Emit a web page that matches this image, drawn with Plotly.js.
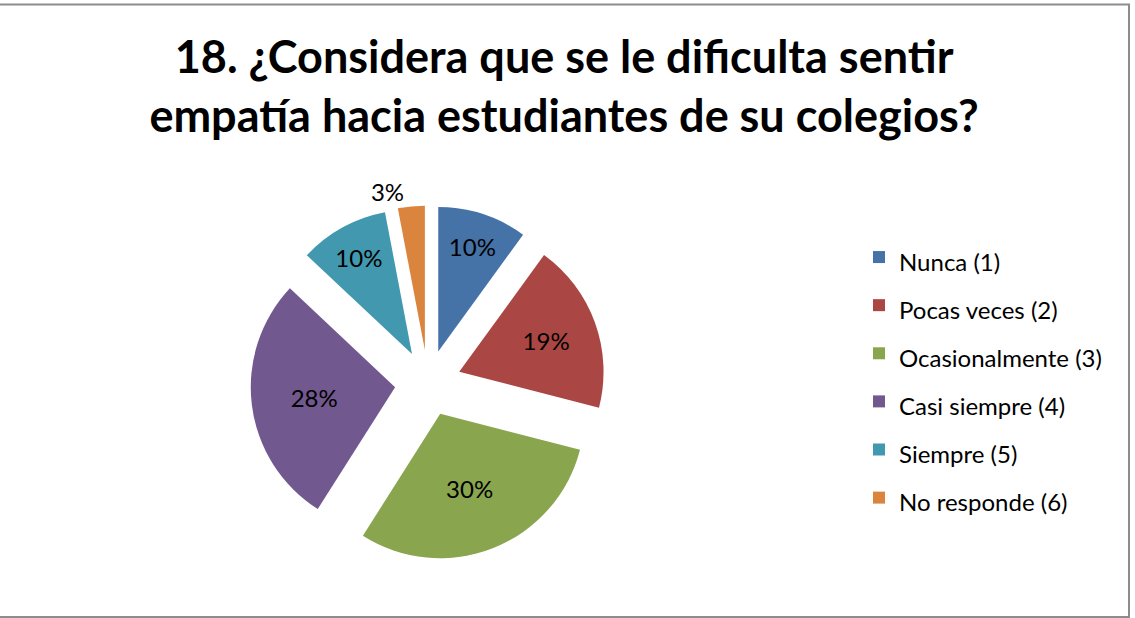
<!DOCTYPE html>
<html>
<head>
<meta charset="utf-8">
<script src="https://cdn.plot.ly/plotly-3.0.1.min.js"></script>
<style>html,body{margin:0;padding:0;background:#fff;}#chart{width:1135px;height:618px;}</style>
</head>
<body>
<div id="chart"></div>
<script>
var categories = ["Nunca (1)", "Pocas veces (2)", "Ocasionalmente (3)", "Casi siempre (4)", "Siempre (5)", "No responde (6)"];
var values = [10, 19, 30, 28, 10, 3];
var colors = ["#4572A7", "#AA4643", "#89A54E", "#71588F", "#4198AF", "#DB843D"];
var titleText = "18. ¿Considera que se le dificulta sentir<br>empatía hacia estudiantes de su colegios?";

var W = 1135, H = 618;
var FONT = "Lato, 'Open Sans', sans-serif";
var trace = {
  type: "pie",
  labels: categories.map(function (c) { return '<span style="font-size:24px">' + c + '</span>'; }),
  values: values,
  marker: { colors: colors, line: { width: 0 } },
  sort: false,
  direction: "clockwise",
  rotation: 0,
  pull: values.map(function () { return 0.23; }),
  textinfo: "percent",
  textposition: values.map(function (v) { return v < 5 ? "outside" : "inside"; }),
  insidetextorientation: "horizontal",
  textfont: { family: FONT, size: 24, color: "#000" },
  insidetextfont: { family: FONT, size: 24, color: "#000" },
  outsidetextfont: { family: FONT, size: 24, color: "#000" },
  hoverinfo: "label+percent",
  domain: { x: [250.5 / W, 605.5 / W], y: [(H - 560.5) / H, (H - 205.5) / H] }
};

var layout = {
  width: W, height: H,
  margin: { l: 0, r: 0, t: 0, b: 0 },
  paper_bgcolor: "#fff",
  title: {
    text: titleText,
    font: { family: FONT, size: 45, color: "#000", weight: "bold" },
    x: 0.497, xanchor: "center",
    y: 1 - 73 / H, yanchor: "top"
  },
  showlegend: true,
  legend: {
    x: 859 / W, xanchor: "left",
    y: 1 - 228 / H, yanchor: "top",
    font: { family: FONT, size: 34.7, color: "#000" },
    bgcolor: "rgba(0,0,0,0)",
    itemwidth: 30
  },
  shapes: [{
    type: "rect", xref: "paper", yref: "paper",
    x0: -0.01, x1: 1129 / W, y0: 1 / H, y1: 1 - 4.5 / H,
    line: { color: "#8c8c8c", width: 2 }
  }]
};

Plotly.newPlot("chart", [trace], layout, { displayModeBar: false, staticPlot: true });
</script>
</body>
</html>
